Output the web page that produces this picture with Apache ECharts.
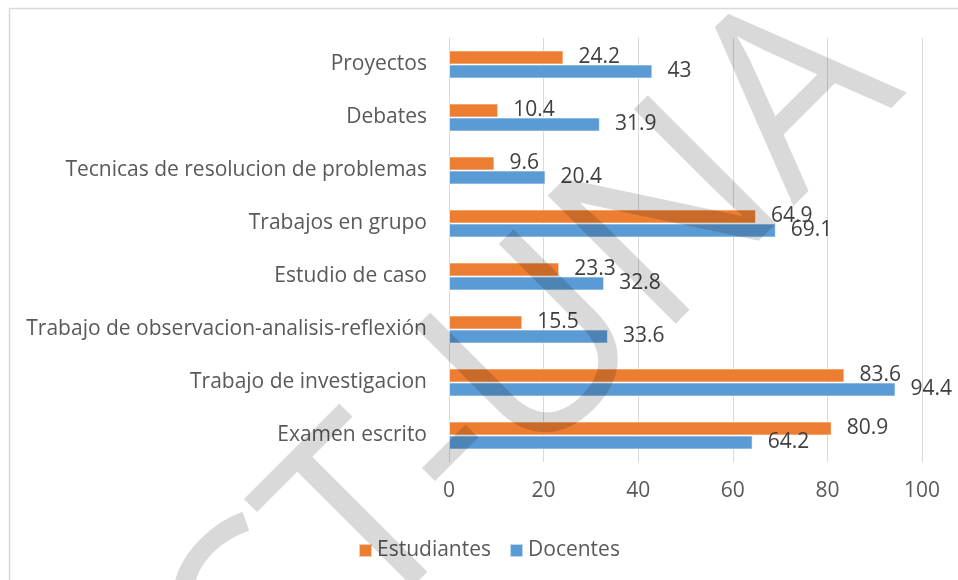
<!DOCTYPE html>
<html>
<head>
<meta charset="utf-8">
<script src="https://cdn.jsdelivr.net/npm/echarts@6/dist/echarts.min.js"></script>
<style>
html,body{margin:0;padding:0;background:#fff;}
#chart{width:958px;height:580px;}
</style>
</head>
<body>
<div id="chart"></div>
<script>
const categories = [
  'Examen escrito',
  'Trabajo de investigacion',
  'Trabajo de observacion-analisis-reflexión',
  'Estudio de caso',
  'Trabajos en grupo',
  'Tecnicas de resolucion de problemas',
  'Debates',
  'Proyectos'
];
const estudiantes = [80.9, 83.6, 15.5, 23.3, 64.9, 9.6, 10.4, 24.2];
const docentes = [64.2, 94.4, 33.6, 32.8, 69.1, 20.4, 31.9, 43];
const seriesNames = ['Estudiantes', 'Docentes'];
const xTicks = [0, 20, 40, 60, 80, 100];
const watermarkText = 'CT-UNA';

const FONT = '"Open Sans", "Noto Sans", sans-serif';
const chart = echarts.init(document.getElementById('chart'), null, {renderer: 'canvas'});

const labelStyle = {
  show: true,
  position: 'right',
  distance: 15,
  fontSize: 21,
  fontFamily: FONT,
  color: '#404040'
};

chart.setOption({
  animation: false,
  backgroundColor: '#fff',
  grid: {left: 449, right: 36, top: 38, bottom: 118, containLabel: false},
  legend: {
    data: seriesNames,
    top: 535,
    left: 353,
    itemWidth: 13,
    itemHeight: 13,
    itemGap: 18,
    icon: 'rect',
    textStyle: {fontSize: 21, fontFamily: FONT, color: '#595959'}
  },
  xAxis: {
    type: 'value',
    min: xTicks[0],
    max: xTicks[xTicks.length - 1],
    interval: 20,
    axisLine: {show: false},
    axisTick: {show: false},
    splitLine: {show: true, lineStyle: {color: '#d9d9d9', width: 1}},
    axisLabel: {fontSize: 21, fontFamily: FONT, color: '#595959', margin: 19}
  },
  yAxis: {
    type: 'category',
    data: categories,
    axisLine: {show: true, lineStyle: {color: '#d9d9d9', width: 1}},
    axisTick: {show: false},
    axisLabel: {fontSize: 21, fontFamily: FONT, color: '#595959', margin: 22}
  },
  series: [
    {
      name: 'Estudiantes',
      type: 'bar',
      data: estudiantes,
      barWidth: 14,
      barGap: '0%',
      itemStyle: {color: '#ED7D31', borderColor: 'rgba(255,255,255,0.6)', borderWidth: 1},
      label: labelStyle
    },
    {
      name: 'Docentes',
      type: 'bar',
      data: docentes,
      barWidth: 14,
      barGap: '0%',
      itemStyle: {color: '#5B9BD5', borderColor: 'rgba(255,255,255,0.6)', borderWidth: 1},
      label: labelStyle
    }
  ],
  graphic: [
    {
      type: 'rect',
      z: 0,
      silent: true,
      shape: {x: 9.5, y: 8.5, width: 1200, height: 1200},
      style: {fill: 'none', stroke: '#d9d9d9', lineWidth: 1.5}
    },
    {
      type: 'text',
      z: 100,
      silent: true,
      x: 531,
      y: 366,
      rotation: Math.PI / 4,
      style: {
        text: watermarkText,
        fontSize: 254,
        fontFamily: FONT,
        fill: 'rgba(0,0,0,0.15)',
        align: 'center',
        verticalAlign: 'middle'
      }
    }
  ]
});
</script>
</body>
</html>
